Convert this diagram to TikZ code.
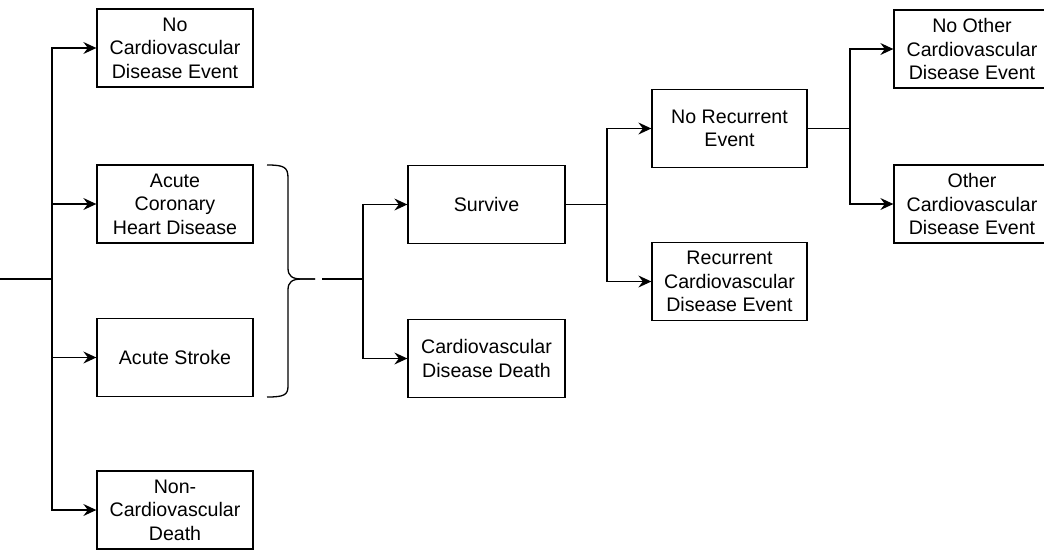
\documentclass[tikz,border=0pt]{standalone}
\usepackage{fontspec}
\setmainfont{Liberation Sans}
\usetikzlibrary{arrows.meta}
\begin{document}
\begin{tikzpicture}[x=1pt,y=-1pt,
  box/.style={draw, line width=1.3pt, minimum width=156pt, minimum height=78pt, align=center,
    font=\fontsize{19.6}{23.5}\selectfont, inner sep=0pt},
  conn/.style={line width=1.3pt},
  arr/.style={conn, -{Stealth[length=13pt,width=12pt,inset=4.5pt]}}]
\useasboundingbox (0,0) rectangle (1044,550);
\node[box] (b1) at (175,48) {No\\Cardiovascular\\Disease Event};
\node[box] (b2) at (175,204) {Acute\\Coronary\\Heart Disease};
\node[box] (b3) at (175,357.5) {Acute Stroke};
\node[box] (b4) at (175,510) {Non-\\Cardiovascular\\Death};
\node[box, minimum width=157pt] (sv) at (486.5,204.5) {Survive};
\node[box, minimum width=157pt] (cd) at (486.5,358.5) {Cardiovascular\\Disease Death};
\node[box, minimum width=155pt] (nr) at (729.5,128.5) {No Recurrent\\Event};
\node[box, minimum width=155pt] (rc) at (729.5,281.5) {Recurrent\\Cardiovascular\\Disease Event};
\node[box] (no) at (972,49) {No Other\\Cardiovascular\\Disease Event};
\node[box] (ot) at (972,204) {Other\\Cardiovascular\\Disease Event};
% left trunk
\coordinate (s0) at (0,279);
\coordinate (j0) at (52,279);
\draw[conn] (s0) -- (j0);
\draw[arr] (j0) |- (b1.west);
\draw[arr] (j0) |- (b2.west);
\draw[arr] (j0) |- (b3.west);
\draw[arr] (j0) |- (b4.west);
% brace
\coordinate (bt) at (315,279);
\draw[conn] (267,165) .. controls (284,165) and (288,167) .. (288,178) -- (288,268)
  .. controls (288,276) and (292,279) .. (302,279) -- (bt);
\draw[conn] (bt) -- (302,279) .. controls (292,279) and (288,282) .. (288,290) -- (288,386)
  .. controls (288,395) and (284,397) .. (267,397);
% second branch
\coordinate (s1) at (322,279);
\coordinate (j1) at (363,279);
\draw[conn] (s1) -- (j1);
\draw[arr] (j1) |- (sv.west);
\draw[arr] (j1) |- (cd.west);
% third branch
\coordinate (j2) at (607,204.5);
\draw[conn] (sv.east) -- (j2);
\draw[arr] (j2) |- (nr.west);
\draw[arr] (j2) |- (rc.west);
% fourth branch
\coordinate (j3) at (850,128.5);
\draw[conn] (nr.east) -- (j3);
\draw[arr] (j3) |- (no.west);
\draw[arr] (j3) |- (ot.west);
\end{tikzpicture}
\end{document}
